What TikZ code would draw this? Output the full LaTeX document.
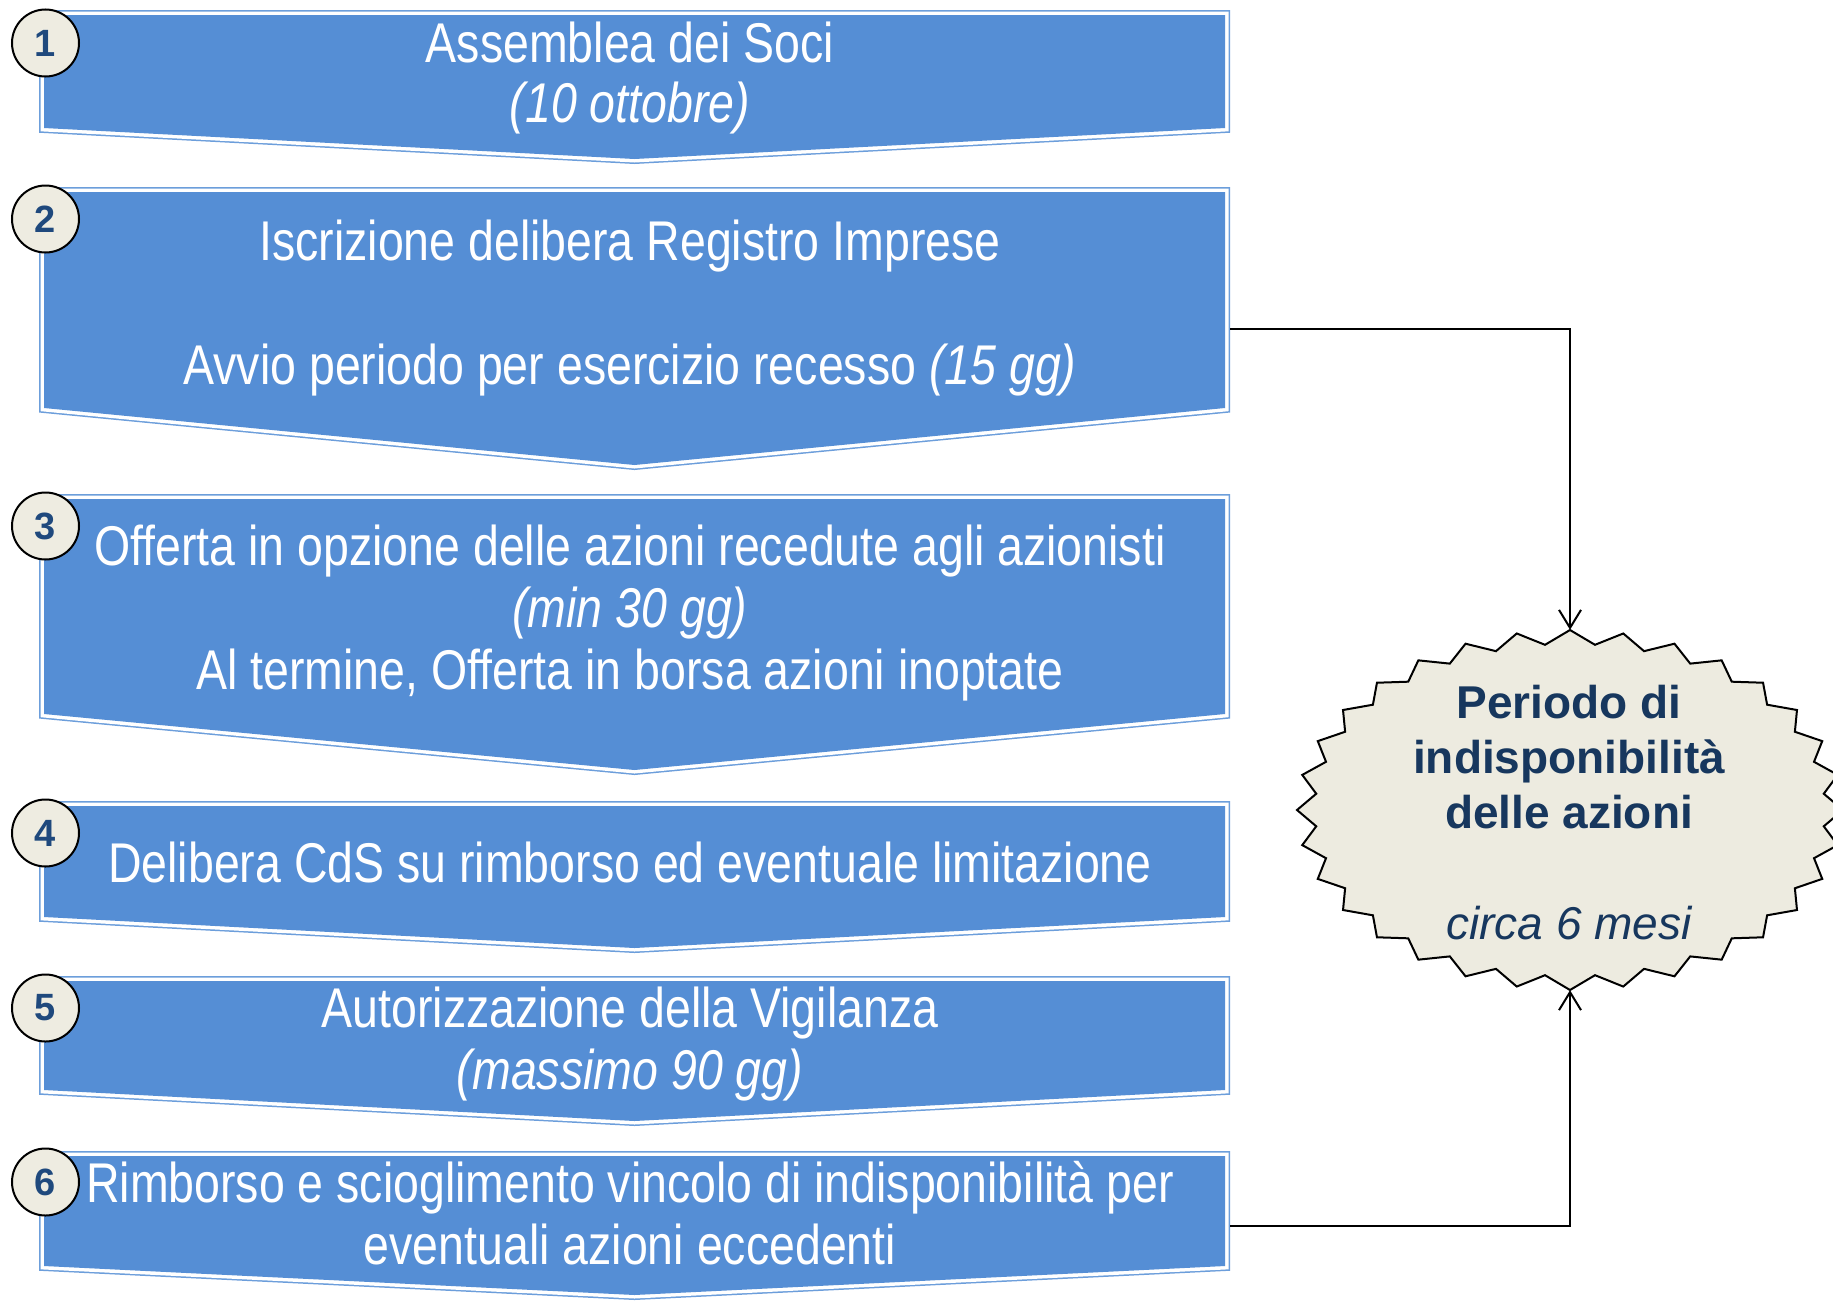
\documentclass[tikz,border=0pt]{standalone}
\usepackage{fontspec}
\setmainfont{Liberation Sans}
\newfontfamily\narrowfont[FakeStretch=0.83]{Liberation Sans}
\usetikzlibrary{arrows.meta}
\definecolor{boxblue}{HTML}{558ED5}
\definecolor{edgeblue}{HTML}{6C9EDB}
\definecolor{badgefill}{HTML}{EEECE1}
\definecolor{badgetext}{HTML}{1F497D}
\definecolor{starfill}{HTML}{EDEBE0}
\definecolor{startext}{HTML}{17375E}
\newcommand{\chevshape}[3]{%
  \draw[edgeblue, line width=10pt, line join=miter] (44,#1) -- (1225,#1) -- (1225,#2) -- (634.5,#3) -- (44,#2) -- cycle;
  \draw[white, line width=7pt, line join=miter] (44,#1) -- (1225,#1) -- (1225,#2) -- (634.5,#3) -- (44,#2) -- cycle;
  \fill[boxblue] (44,#1) -- (1225,#1) -- (1225,#2) -- (634.5,#3) -- (44,#2) -- cycle;
}
\begin{document}
\begin{tikzpicture}[x=1pt,y=-1pt,
  boxtext/.style={text=white, font=\narrowfont\fontsize{56}{62}\selectfont, anchor=base, inner sep=0pt},
  startxt/.style={text=startext, font=\bfseries\fontsize{46}{55}\selectfont, anchor=base, inner sep=0pt},
  badge/.style={circle, draw=black, line width=2pt, fill=badgefill, minimum size=67pt, inner sep=0pt, font=\bfseries\fontsize{38}{40}\selectfont, text=badgetext},
  boxarea/.style={rectangle, draw=none, minimum width=1191pt, inner sep=0pt},
  conn/.style={draw=black, line width=2pt, -{Straight Barb[length=18pt, width=22pt, line width=2pt]}}
]
\useasboundingbox (0,0) rectangle (1833,1301);
\fill[white] (0,0) rectangle (1833,1301);

% chevrons
\chevshape{15}{128}{159}
\chevshape{192}{408}{465}
\chevshape{499}{714}{770}
\chevshape{806}{917}{948}
\chevshape{981}{1090}{1121}
\chevshape{1156}{1266}{1295}

% invisible box areas for connectors
\node[boxarea, minimum height=154pt] (b1) at (634.5,87) {};
\node[boxarea, minimum height=283pt] (b2) at (634.5,328.5) {};
\node[boxarea, minimum height=281pt] (b3) at (634.5,634.5) {};
\node[boxarea, minimum height=149pt] (b4) at (634.5,875.5) {};
\node[boxarea, minimum height=150pt] (b5) at (634.5,1051) {};
\node[boxarea, minimum height=149pt] (b6) at (634.5,1225.5) {};

% texts
\node[boxtext] (t1a) at (630,62) {Assemblea dei Soci};
\node[boxtext] (t1b) at (630,122) {\itshape (10 ottobre)};
\node[boxtext] (t2a) at (630,260) {Iscrizione delibera Registro Imprese};
\node[boxtext] (t2b) at (630,384) {Avvio periodo per esercizio recesso {\itshape (15 gg)}};
\node[boxtext] (t3a) at (630,565) {Offerta in opzione delle azioni recedute agli azionisti};
\node[boxtext] (t3b) at (630,627) {\itshape (min 30 gg)};
\node[boxtext] (t3c) at (630,689) {Al termine, Offerta in borsa azioni inoptate};
\node[boxtext] (t4a) at (630,882) {Delibera CdS su rimborso ed eventuale limitazione};
\node[boxtext] (t5a) at (630,1027) {Autorizzazione della Vigilanza};
\node[boxtext] (t5b) at (630,1089) {\itshape (massimo 90 gg)};
\node[boxtext] (t6a) at (630,1202) {Rimborso e scioglimento vincolo di indisponibilità per};
\node[boxtext] (t6b) at (630,1264) {eventuali azioni eccedenti};

% badges
\node[badge] (n1) at (45.5,43) {1};
\node[badge] (n2) at (45.5,219) {2};
\node[badge] (n3) at (45.5,526) {3};
\node[badge] (n4) at (45.5,833) {4};
\node[badge] (n5) at (45.5,1008) {5};
\node[badge] (n6) at (45.5,1182) {6};

% star
\draw[black, line width=2pt, fill=starfill, line join=miter]
  plot[variable=\k, samples at={0,...,63}]
  ({1570+ifthenelse(mod(\k,2)==0,273,255)*cos(90+\k*5.625)},
   {810-ifthenelse(mod(\k,2)==0,180,166)*sin(90+\k*5.625)}) -- cycle;
\node[rectangle, draw=none, minimum width=546pt, minimum height=360pt, inner sep=0pt] (star) at (1570,810) {};
\node[startxt] (s1) at (1569,718) {Periodo di};
\node[startxt] (s2) at (1569,773) {indisponibilità};
\node[startxt] (s3) at (1569,828) {delle azioni};
\node[startxt, font=\itshape\fontsize{46}{55}\selectfont] (s4) at (1569,939) {circa 6 mesi};

% connectors
\draw[conn] (b2.east) -| (star.north);
\draw[conn] (b6.east) -| (star.south);
\end{tikzpicture}
\end{document}
